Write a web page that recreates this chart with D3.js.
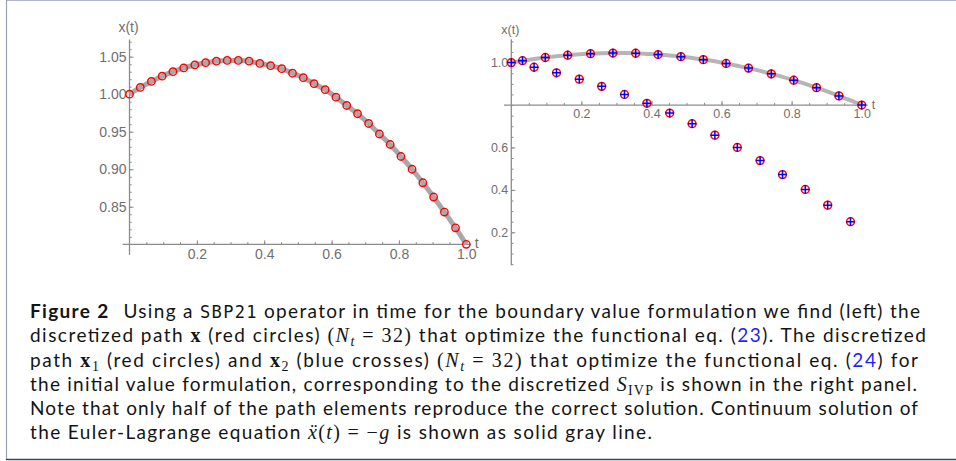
<!DOCTYPE html>
<html>
<head>
<meta charset="utf-8">
<script src="https://cdn.jsdelivr.net/npm/d3@7"></script>
<style>
	body { margin: 0; background: #fff; }
	svg { display: block; font-family: "Liberation Sans", Arial, sans-serif; }
	.axis text { fill: #6f6f6f; }
	.axis line { stroke: #8c8c8c; }
	.axisline { stroke: #8c8c8c; stroke-width: 1.3; }
	.caption { font-family: Lato, "Open Sans", sans-serif; font-size: 19px; fill: #141414; }
	.caption .b { font-weight: bold; }
	.caption .tt { font-family: "DejaVu Sans Mono", "Liberation Mono", monospace; font-size: 17px; }
	.caption .m { font-family: "Liberation Serif", serif; font-style: italic; font-size: 20px; }
	.caption .r { font-family: "Liberation Serif", serif; font-size: 20px; }
	.caption .mb { font-family: "Liberation Serif", serif; font-weight: bold; font-size: 20px; }
	.caption .link { fill: #1f1fff; }
</style>
</head>
<body>
<div id="chart"></div>
<script>
// time grid, N_t = 32 points on [0, 1]
const tGrid = [0.000, 0.032, 0.065, 0.097, 0.129, 0.161, 0.194, 0.226, 0.258, 0.290, 0.323,
	0.355, 0.387, 0.419, 0.452, 0.484, 0.516, 0.548, 0.581, 0.613, 0.645, 0.677, 0.710,
	0.742, 0.774, 0.806, 0.839, 0.871, 0.903, 0.935, 0.968, 1.000];

// boundary value path (left panel), also the continuum solution
const pathBVP = [1.000, 1.009, 1.017, 1.024, 1.030, 1.035, 1.039, 1.042, 1.044, 1.045, 1.045,
	1.044, 1.041, 1.038, 1.034, 1.028, 1.022, 1.014, 1.006, 0.996, 0.985, 0.974, 0.961,
	0.947, 0.933, 0.917, 0.900, 0.882, 0.863, 0.843, 0.822, 0.800];

// initial value paths (right panel), x1 red circles and x2 blue crosses
const pathX1 = [1.000, 1.009, 0.978, 1.024, 0.952, 1.035, 0.922, 1.042, 0.888, 1.045, 0.850,
	1.044, 0.808, 1.038, 0.762, 1.028, 0.712, 1.014, 0.658, 0.996, 0.600, 0.974, 0.538,
	0.947, 0.472, 0.917, 0.402, 0.882, 0.328, 0.843, 0.250, 0.800];
const pathX2 = [1.000, 1.009, 0.978, 1.024, 0.952, 1.035, 0.922, 1.042, 0.888, 1.045, 0.850,
	1.044, 0.808, 1.038, 0.762, 1.028, 0.712, 1.014, 0.658, 0.996, 0.600, 0.974, 0.538,
	0.947, 0.472, 0.917, 0.402, 0.882, 0.328, 0.843, 0.250, 0.800];

// tick labels
const leftXTicks = [0.2, 0.4, 0.6, 0.8, 1.0];
const leftYTicks = [0.85, 0.90, 0.95, 1.00, 1.05];
const rightXTicks = [0.2, 0.4, 0.6, 0.8, 1.0];
const rightYTicks = [0.2, 0.4, 0.6, 1.0];

// caption, one array of [text, style, dx] per line
const captionLines = [
	[["Figure 2", "b"], ["Using a ", "", 14], ["SBP21", "tt"], [" operator in time for the boundary value formulation we find (left) the", ""]],
	[["discretized path ", ""], ["x", "mb"], [" (red circles) ", ""], ["(", "r"], ["N", "m"], ["t", "msub"], [" = 32)", "r"],
		[" that optimize the functional eq. (", ""], ["23", "link"], ["). The discretized", ""]],
	[["path ", ""], ["x", "mb"], ["1", "rsub"], [" (red circles) and ", ""], ["x", "mb"], ["2", "rsub"], [" (blue crosses) ", ""],
		["(", "r"], ["N", "m"], ["t", "msub"], [" = 32)", "r"], [" that optimize the functional eq. (", ""], ["24", "link"], [") for", ""]],
	[["the initial value formulation, corresponding to the discretized ", ""], ["S", "m"], ["IVP", "rsub"],
		[" is shown in the right panel.", ""]],
	[["Note that only half of the path elements reproduce the correct solution. Continuum solution of", ""]],
	[["the Euler-Lagrange equation ", ""], ["\u1E8D", "m"], ["(", "r"], ["t", "m"], [") = \u2212", "r"], ["g", "m"],
		[" is shown as solid gray line.", ""]]
];

const width = 956, height = 461;
const svg = d3.select("#chart").append("svg")
	.attr("width", width).attr("height", height);

// frame
svg.append("line").attr("x1", 6).attr("x2", width).attr("y1", 0.5).attr("y2", 0.5)
	.attr("stroke", "#b3b7cb").attr("stroke-width", 1.2);
svg.append("line").attr("x1", 6.5).attr("x2", 6.5).attr("y1", 0).attr("y2", 460)
	.attr("stroke", "#9aa0b8").attr("stroke-width", 1.2);
svg.append("line").attr("x1", 6).attr("x2", width).attr("y1", 459.5).attr("y2", 459.5)
	.attr("stroke", "#3a4562").attr("stroke-width", 1.6);

function drawAxes(p) {
	let g = svg.append("g");
	let x = p.x, y = p.y;

	// minor then major ticks
	let minorX = d3.range(0.05, 1.001, 0.05);
	g.append("g").attr("class", "axis").attr("transform", `translate(0,${y(p.yCross)})`)
		.call(d3.axisBottom(x).tickValues(minorX).tickSize(-2.2).tickFormat(""))
		.call((s) => s.select(".domain").remove());
	g.append("g").attr("class", "axis").attr("transform", `translate(0,${y(p.yCross)})`)
		.style("font-size", p.fontSize + "px")
		.call(d3.axisBottom(x).tickValues(p.xTicks).tickSize(-4).tickPadding(p.padX).tickFormat(d3.format(".1f")))
		.call((s) => s.select(".domain").remove());

	g.append("g").attr("class", "axis").attr("transform", `translate(${x(0)},0)`)
		.call(d3.axisLeft(y).tickValues(p.yMinor).tickSize(-2.2).tickFormat(""))
		.call((s) => s.select(".domain").remove());
	g.append("g").attr("class", "axis").attr("transform", `translate(${x(0)},0)`)
		.style("font-size", p.fontSize + "px")
		.call(d3.axisLeft(y).tickValues(p.yTicks).tickSize(-4).tickPadding(3).tickFormat(d3.format(p.yFormat)))
		.call((s) => s.select(".domain").remove());

	// axis lines
	g.append("line").classed("axisline", true)
		.attr("x1", x(p.tExtent[0])).attr("x2", x(p.tExtent[1]))
		.attr("y1", y(p.yCross)).attr("y2", y(p.yCross));
	g.append("line").classed("axisline", true)
		.attr("x1", x(0)).attr("x2", x(0))
		.attr("y1", y(p.yExtent[0])).attr("y2", y(p.yExtent[1]));

	// axis names
	g.append("text").attr("x", x(0) - 1).attr("y", y(p.yExtent[1]) - p.nameGap)
		.attr("text-anchor", "middle").attr("fill", "#6f6f6f")
		.style("font-size", p.fontSize + "px").text("x(t)");
	g.append("text").attr("x", x(p.tExtent[1]) + 4).attr("y", y(p.yCross) + p.fontSize * 0.28)
		.attr("fill", "#6f6f6f").style("font-size", p.fontSize + "px").text("t");
}

function grayLine(x, y, w, color) {
	let line = d3.line()
		.x((d, i) => x(tGrid[i]))
		.y((d) => y(d))
		.curve(d3.curveNatural);
	svg.append("path").datum(pathBVP)
		.attr("d", line)
		.attr("fill", "none").attr("stroke", color).attr("stroke-width", w);
}

// ---- left panel ----
const xL = d3.scaleLinear([0, 1], [129.5, 466.3]);
const yL = d3.scaleLinear([0.8, 1.05], [244.3, 56.7]);
drawAxes({
	x: xL, y: yL, yCross: 0.8, tExtent: [-0.02, 1.013], yExtent: [0.786, 1.073],
	xTicks: leftXTicks, yTicks: leftYTicks, yMinor: d3.range(0.81, 1.071, 0.01),
	yFormat: ".2f", fontSize: 14, padX: 5, nameGap: 7
});
grayLine(xL, yL, 5, "#a8a8a8");
svg.append("g").selectAll("circle")
	.data(pathBVP).join("circle")
	.attr("cx", (d, i) => xL(tGrid[i])).attr("cy", (d) => yL(d))
	.attr("r", 3.7).attr("fill", "none").attr("stroke", "#ff0000").attr("stroke-width", 1.4);

// ---- right panel ----
const xR = d3.scaleLinear([0, 1], [511.3, 861.7]);
const yR = d3.scaleLinear([0.2, 1.0], [232.3, 62.6]);
drawAxes({
	x: xR, y: yR, yCross: 0.8, tExtent: [-0.021, 1.017], yExtent: [0.045, 1.11],
	xTicks: rightXTicks, yTicks: rightYTicks, yMinor: d3.range(0.05, 1.101, 0.05),
	yFormat: ".1f", fontSize: 12.5, padX: 4, nameGap: 5
});
grayLine(xR, yR, 4, "#b5b5b5");
svg.append("g").selectAll("circle")
	.data(pathX1).join("circle")
	.attr("cx", (d, i) => xR(tGrid[i])).attr("cy", (d) => yR(d))
	.attr("r", 3.9).attr("fill", "none").attr("stroke", "#ff0000").attr("stroke-width", 1.5);
svg.append("g").selectAll("path")
	.data(pathX2).join("path")
	.attr("d", (d, i) => {
		let cx = xR(tGrid[i]), cy = yR(d), s = 4.4;
		return `M${cx - s},${cy}H${cx + s}M${cx},${cy - s}V${cy + s}`;
	})
	.attr("fill", "none").attr("stroke", "#0000ff").attr("stroke-width", 1.5);

// ---- caption ----
const lineEnds = [920, 926, 918, 917, 918, 652];
const cap = svg.append("g").attr("class", "caption");
captionLines.forEach((segs, li) => {
	let text = cap.append("text")
		.attr("x", 30).attr("y", 318 + li * 24.25)
		.attr("textLength", lineEnds[li] - 30)
		.attr("lengthAdjust", "spacing");
	let shifted = false;
	segs.forEach(([str, style, dx]) => {
		let ts = text.append("tspan").text(str);
		if (dx) ts.attr("dx", dx);
		let isSub = style === "msub" || style === "rsub";
		if (isSub) {
			ts.attr("class", style === "msub" ? "m" : "r").style("font-size", "14px");
			if (!shifted) ts.attr("dy", 4);
		} else {
			if (style) ts.attr("class", style);
			if (shifted) ts.attr("dy", -4); // back to baseline
		}
		shifted = isSub;
	});
});
</script>
</body>
</html>
